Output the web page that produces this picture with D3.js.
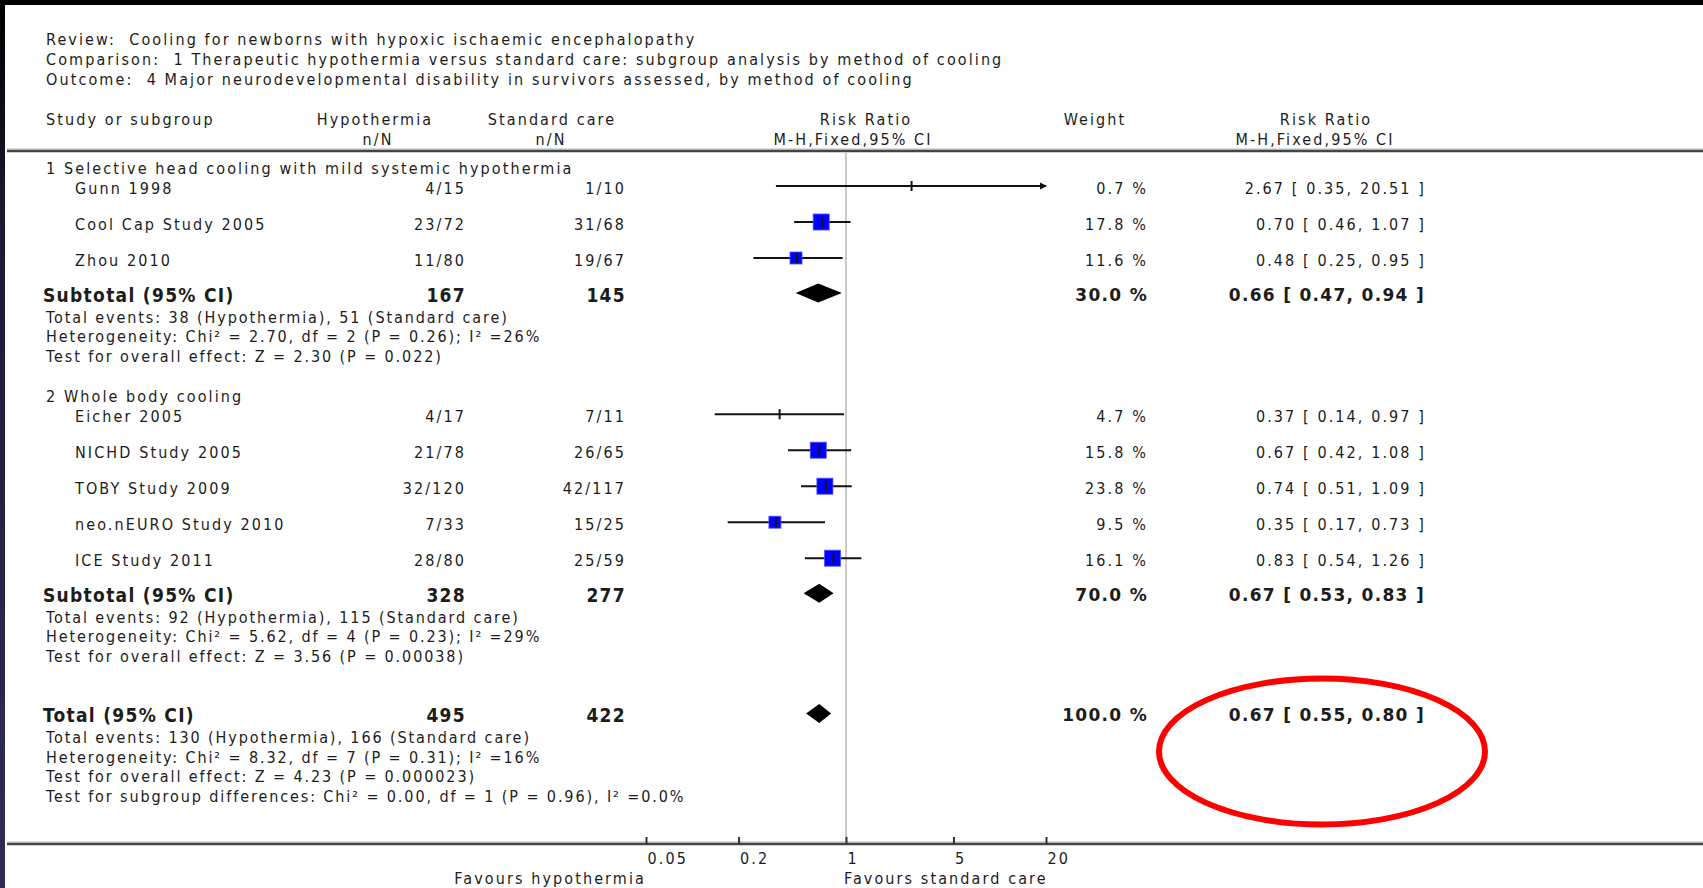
<!DOCTYPE html>
<html lang="en">
<head>
<meta charset="UTF-8">
<title>Cooling for newborns - forest plot</title>
<script src="https://d3js.org/d3.v7.min.js"></script>
<style>
  body { margin: 0; background: #fff; }
  svg { display: block; }
  text { font-family: 'DejaVu Sans Condensed', 'DejaVu Sans', sans-serif; fill: #1c1c1c; white-space: pre; }
  .reg { font-size: 16px; letter-spacing: 2.1px; }
  .note { font-size: 16px; letter-spacing: 1.9px; }
  .bold { font-size: 19px; font-weight: bold; letter-spacing: 1.3px; }
  .boldnum { font-family: 'DejaVu Sans', sans-serif; font-size: 17px; font-weight: bold; letter-spacing: 1.3px; }
</style>
</head>
<body>
<svg width="1703" height="888"></svg>
<script>
const W = 1703, H = 888;

// ---- data ----
const titleLines = [
  "Review:  Cooling for newborns with hypoxic ischaemic encephalopathy",
  "Comparison:  1 Therapeutic hypothermia versus standard care: subgroup analysis by method of cooling",
  "Outcome:  4 Major neurodevelopmental disability in survivors assessed, by method of cooling"
];
const groupNames = ["1 Selective head cooling with mild systemic hypothermia", "2 Whole body cooling"];

const studyNames = ["Gunn 1998", "Cool Cap Study 2005", "Zhou 2010", "Eicher 2005", "NICHD Study 2005", "TOBY Study 2009", "neo.nEURO Study 2010", "ICE Study 2011"];
const studyGroup = [0, 0, 0, 1, 1, 1, 1, 1];
const hypoEvents = [4, 23, 11, 4, 21, 32, 7, 28];
const hypoTotal  = [15, 72, 80, 17, 78, 120, 33, 80];
const stdEvents  = [1, 31, 19, 7, 26, 42, 15, 25];
const stdTotal   = [10, 68, 67, 11, 65, 117, 25, 59];
const studyRR    = [2.67, 0.70, 0.48, 0.37, 0.67, 0.74, 0.35, 0.83];
const studyLo    = [0.35, 0.46, 0.25, 0.14, 0.42, 0.51, 0.17, 0.54];
const studyHi    = [20.51, 1.07, 0.95, 0.97, 1.08, 1.09, 0.73, 1.26];
const studyWeight = [0.7, 17.8, 11.6, 4.7, 15.8, 23.8, 9.5, 16.1];

const subHypo = [167, 328];
const subStd = [145, 277];
const subRR = [0.66, 0.67];
const subLo = [0.47, 0.53];
const subHi = [0.94, 0.83];
const subWeight = [30.0, 70.0];
const subNotes = [
  ["Total events: 38 (Hypothermia), 51 (Standard care)",
   "Heterogeneity: Chi² = 2.70, df = 2 (P = 0.26); I² =26%",
   "Test for overall effect: Z = 2.30 (P = 0.022)"],
  ["Total events: 92 (Hypothermia), 115 (Standard care)",
   "Heterogeneity: Chi² = 5.62, df = 4 (P = 0.23); I² =29%",
   "Test for overall effect: Z = 3.56 (P = 0.00038)"]
];

const totalHypo = 495, totalStd = 422, totalRR = 0.67, totalLo = 0.55, totalHi = 0.80, totalWeight = 100.0;
const totalNotes = [
  "Total events: 130 (Hypothermia), 166 (Standard care)",
  "Heterogeneity: Chi² = 8.32, df = 7 (P = 0.31); I² =16%",
  "Test for overall effect: Z = 4.23 (P = 0.000023)",
  "Test for subgroup differences: Chi² = 0.00, df = 1 (P = 0.96), I² =0.0%"
];

const axisTicks = [0.05, 0.2, 1, 5, 20];
const favours = ["Favours hypothermia", "Favours standard care"];

// ---- layout ----
const svg = d3.select("svg");
const x = d3.scaleLog().domain([0.05, 20]).range([646, 1046]);
const boxSize = d3.scaleThreshold().domain([5, 15]).range([0, 12, 16]);
const f2 = d3.format(".2f"), f1 = d3.format(".1f");
const rrText = (r, l, h) => `${f2(r)} [ ${f2(l)}, ${f2(h)} ]`;

const col = { title: 46, group: 46, study: 75, sub: 43, hypo: 466, std: 626, weight: 1148, rr: 1426 };
const ruleTop = 151, ruleBottom = 844;

// build row list with vertical steps
const rows = [];
let y = ruleTop, prev = null;
const step = { group: 40, groupFirst: 17, studyFirst: 20, study: 36, sub: 35, noteFirst: 22, note: 19.6, total: 59 };
function push(kind, d) {
  let s;
  if (kind === "group") s = prev ? step.group : step.groupFirst;
  else if (kind === "study") s = prev === "group" ? step.studyFirst : step.study;
  else if (kind === "note") s = prev === "note" ? step.note : step.noteFirst;
  else s = step[kind];
  y += s;
  rows.push(Object.assign({ kind, y }, d));
  prev = kind;
}
groupNames.forEach((g, gi) => {
  push("group", { text: g });
  studyNames.forEach((n, i) => {
    if (studyGroup[i] !== gi) return;
    push("study", { name: n, hypo: `${hypoEvents[i]}/${hypoTotal[i]}`, std: `${stdEvents[i]}/${stdTotal[i]}`,
      rr: studyRR[i], lo: studyLo[i], hi: studyHi[i], w: studyWeight[i] });
  });
  push("sub", { name: "Subtotal (95% CI)", hypo: subHypo[gi], std: subStd[gi], rr: subRR[gi], lo: subLo[gi], hi: subHi[gi], w: subWeight[gi] });
  subNotes[gi].forEach(t => push("note", { text: t }));
});
push("total", { name: "Total (95% CI)", hypo: totalHypo, std: totalStd, rr: totalRR, lo: totalLo, hi: totalHi, w: totalWeight });
totalNotes.forEach(t => push("note", { text: t }));

// ---- frame ----
const defs = svg.append("defs");
const grad = defs.append("linearGradient").attr("id", "edge").attr("x1", 0).attr("y1", 0).attr("x2", 0).attr("y2", 1);
grad.append("stop").attr("offset", "0%").attr("stop-color", "#000");
grad.append("stop").attr("offset", "25%").attr("stop-color", "#1c1b33");
grad.append("stop").attr("offset", "100%").attr("stop-color", "#2f2d57");
svg.append("rect").attr("width", W).attr("height", H).attr("fill", "#fff");
svg.append("rect").attr("x", 0).attr("y", 0).attr("width", W).attr("height", 5).attr("fill", "#000");
svg.append("rect").attr("x", 0).attr("y", 0).attr("width", 5).attr("height", H).attr("fill", "url(#edge)");

// titles
svg.append("g").selectAll("text").data(titleLines).join("text")
  .attr("class", "reg").attr("x", col.title).attr("y", (d, i) => 39 + i * 20).attr("dy", "0.35em").text(d => d);

// headers (two lines, each with its own centre)
const headers = [
  { x1: col.title, x2: col.title, a: "start", l1: "Study or subgroup", l2: "" },
  { x1: 375, x2: 378, a: "middle", l1: "Hypothermia", l2: "n/N" },
  { x1: 552, x2: 551, a: "middle", l1: "Standard care", l2: "n/N" },
  { x1: 866, x2: 853, a: "middle", l1: "Risk Ratio", l2: "M-H,Fixed,95% CI" },
  { x1: 1095, x2: 1095, a: "middle", l1: "Weight", l2: "" },
  { x1: 1326, x2: 1315, a: "middle", l1: "Risk Ratio", l2: "M-H,Fixed,95% CI" }
];
const hg = svg.append("g");
hg.selectAll("text.h1").data(headers).join("text").attr("class", "reg h1")
  .attr("x", d => d.x1).attr("y", 119).attr("dy", "0.35em").attr("text-anchor", d => d.a).text(d => d.l1);
hg.selectAll("text.h2").data(headers).join("text").attr("class", "reg h2")
  .attr("x", d => d.x2).attr("y", 139).attr("dy", "0.35em").attr("text-anchor", d => d.a).text(d => d.l2);

// rules
[ruleTop, ruleBottom].forEach(ry => {
  svg.append("line").attr("x1", 7).attr("x2", W).attr("y1", ry - 2).attr("y2", ry - 2).attr("stroke", "#b5b5b5").attr("stroke-width", 1);
  svg.append("line").attr("x1", 7).attr("x2", W).attr("y1", ry).attr("y2", ry).attr("stroke", "#444").attr("stroke-width", 2.5);
});

// reference line at 1
svg.append("line").attr("x1", x(1)).attr("x2", x(1)).attr("y1", ruleTop + 1).attr("y2", ruleBottom - 1)
  .attr("stroke", "#c9c9c9").attr("stroke-width", 2);

// ---- rows ----
const g = svg.append("g");
rows.forEach(r => {
  if (r.kind === "group") {
    g.append("text").attr("class", "reg").attr("x", col.group).attr("y", r.y).attr("dy", "0.35em").text(r.text);
  } else if (r.kind === "note") {
    g.append("text").attr("class", "note").attr("x", col.title).attr("y", r.y).attr("dy", "0.35em").text(r.text);
  } else if (r.kind === "study") {
    g.append("text").attr("class", "reg").attr("x", col.study).attr("y", r.y).attr("dy", "0.35em").text(r.name);
    g.append("text").attr("class", "reg").attr("x", col.hypo).attr("y", r.y).attr("dy", "0.35em").attr("text-anchor", "end").text(r.hypo);
    g.append("text").attr("class", "reg").attr("x", col.std).attr("y", r.y).attr("dy", "0.35em").attr("text-anchor", "end").text(r.std);
    g.append("text").attr("class", "reg").attr("x", col.weight).attr("y", r.y).attr("dy", "0.35em").attr("text-anchor", "end").text(f1(r.w) + " %");
    g.append("text").attr("class", "reg").attr("x", col.rr).attr("y", r.y).attr("dy", "0.35em").attr("text-anchor", "end").text(rrText(r.rr, r.lo, r.hi));
    const my = r.y - 2;
    const [d0, d1] = x.domain();
    const xl = x(Math.max(r.lo, d0)), xh = x(Math.min(r.hi, d1));
    g.append("line").attr("x1", xl).attr("x2", xh).attr("y1", my).attr("y2", my).attr("stroke", "#111").attr("stroke-width", 2);
    if (r.hi > d1) {
      g.append("path").attr("d", `M${xh + 1},${my} L${xh - 6},${my - 3.5} L${xh - 6},${my + 3.5} Z`).attr("fill", "#111");
    }
    const s = boxSize(r.w);
    if (s > 0) {
      g.append("rect").attr("x", x(r.rr) - s / 2 - 1).attr("y", my - s / 2).attr("width", s).attr("height", s)
        .attr("fill", "#0000ff").attr("stroke", "#4d4dff").attr("stroke-width", 0.8);
    }
    g.append("line").attr("x1", x(r.rr)).attr("x2", x(r.rr)).attr("y1", my - 5).attr("y2", my + 5).attr("stroke", "#111").attr("stroke-width", 2);
  } else {
    g.append("text").attr("class", "bold").attr("x", col.sub).attr("y", r.y).attr("dy", "0.35em").text(r.name);
    g.append("text").attr("class", "bold").attr("x", col.hypo).attr("y", r.y).attr("dy", "0.35em").attr("text-anchor", "end").text(r.hypo);
    g.append("text").attr("class", "bold").attr("x", col.std).attr("y", r.y).attr("dy", "0.35em").attr("text-anchor", "end").text(r.std);
    g.append("text").attr("class", "boldnum").attr("x", col.weight).attr("y", r.y).attr("dy", "0.35em").attr("text-anchor", "end").text(f1(r.w) + " %");
    g.append("text").attr("class", "boldnum").attr("x", col.rr - 1).attr("y", r.y).attr("dy", "0.35em").attr("text-anchor", "end").text(rrText(r.rr, r.lo, r.hi));
    const my = r.y - 2;
    g.append("path")
      .attr("d", `M${x(r.lo)},${my} L${x(r.rr)},${my - 9.5} L${x(r.hi)},${my} L${x(r.rr)},${my + 9.5} Z`)
      .attr("fill", "#000");
  }
});

// ---- axis ----
const axis = d3.axisBottom(x).tickValues(axisTicks).tickFormat(d => String(d))
  .tickSizeInner(-7).tickSizeOuter(0).tickPadding(9);
const ag = svg.append("g").attr("transform", `translate(0,${ruleBottom})`).call(axis);
ag.select(".domain").remove();
ag.selectAll(".tick line").attr("stroke", "#333").attr("stroke-width", 2);
ag.selectAll(".tick text").attr("class", "reg").attr("text-anchor", "start").attr("x", 1)
  .attr("font-size", null).attr("font-family", null).attr("fill", "#1c1c1c");
ag.attr("font-size", null).attr("font-family", null);

svg.append("text").attr("class", "reg").attr("x", x(0.05)).attr("y", 878).attr("dy", "0.35em").attr("text-anchor", "end").text(favours[0]);
svg.append("text").attr("class", "reg").attr("x", x(1) - 2).attr("y", 878).attr("dy", "0.35em").text(favours[1]);

// red highlight ellipse around the overall result
svg.append("ellipse").attr("cx", 1322).attr("cy", 751.5).attr("rx", 163).attr("ry", 73)
  .attr("fill", "none").attr("stroke", "#ff0000").attr("stroke-width", 6);
</script>
</body>
</html>
